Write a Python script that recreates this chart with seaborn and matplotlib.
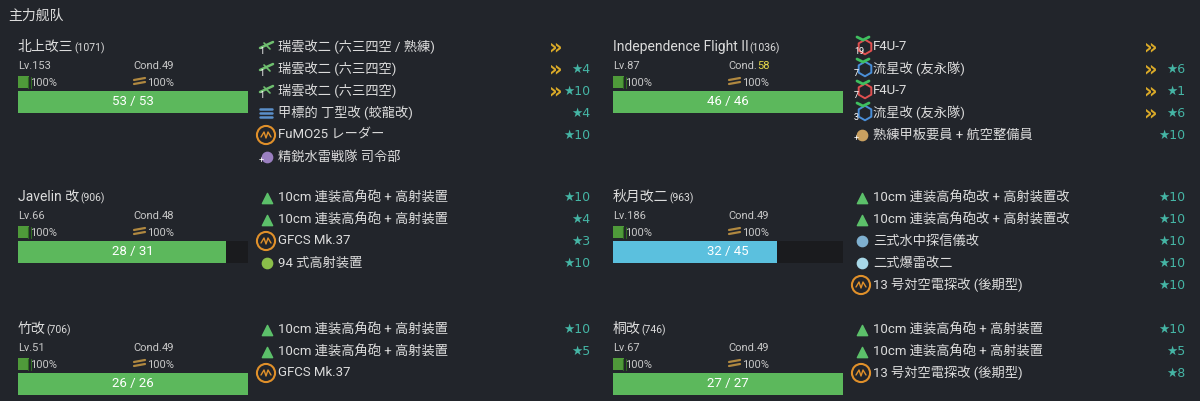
import matplotlib
matplotlib.use("Agg")
import matplotlib.pyplot as plt
import seaborn as sns

# ── data ──────────────────────────────────────────────
ship_names = ["北上改三", "Independence Flight II", "Javelin 改", "秋月改二", "竹改", "桐改"]
ship_ids = [1071, 1036, 906, 963, 706, 746]
ship_lv = [153, 87, 66, 186, 51, 67]
ship_cond = [49, 58, 48, 49, 49, 49]
hp_now = [53, 46, 28, 32, 26, 27]
hp_max = [53, 46, 31, 45, 26, 27]

equip_names = [
    ["瑞雲改二 (六三四空 / 熟練)", "瑞雲改二 (六三四空)", "瑞雲改二 (六三四空)", "甲標的 丁型改 (蛟龍改)", "FuMO25 レーダー", "精鋭水雷戦隊 司令部"],
    ["F4U-7", "流星改 (友永隊)", "F4U-7", "流星改 (友永隊)", "熟練甲板要員 + 航空整備員"],
    ["10cm 連装高角砲 + 高射装置", "10cm 連装高角砲 + 高射装置", "GFCS Mk.37", "94 式高射装置"],
    ["10cm 連装高角砲改 + 高射装置改", "10cm 連装高角砲改 + 高射装置改", "三式水中探信儀改", "二式爆雷改二", "13 号対空電探改 (後期型)"],
    ["10cm 連装高角砲 + 高射装置", "10cm 連装高角砲 + 高射装置", "GFCS Mk.37"],
    ["10cm 連装高角砲 + 高射装置", "10cm 連装高角砲 + 高射装置", "13 号対空電探改 (後期型)"],
]
equip_stars = [
    [0, 4, 10, 4, 10, 0],
    [0, 6, 1, 6, 10],
    [10, 4, 3, 10],
    [10, 10, 10, 10, 10],
    [10, 5, 0],
    [10, 5, 8],
]
equip_prof = [
    [1, 1, 1, 0, 0, 0],
    [1, 1, 1, 1, 0],
    [0, 0, 0, 0],
    [0, 0, 0, 0, 0],
    [0, 0, 0],
    [0, 0, 0],
]
equip_kind = [
    ["plane", "plane", "plane", "sub", "radar", "hq"],
    ["fighter", "bomber", "fighter", "bomber", "crew"],
    ["gun", "gun", "radar", "aa"],
    ["gun", "gun", "sonar", "dc", "radar"],
    ["gun", "gun", "radar"],
    ["gun", "gun", "radar"],
]
plane_count = [["1", "1", "1", "", "", "+"], ["19", "7", "7", "3", "+"],
               ["", "", "", ""], ["", "", "", "", ""], ["", "", ""], ["", "", ""]]

# ── layout ────────────────────────────────────────────
BG = "#22252b"
TXT = "#dcdcdc"
STAR = "#45b5a5"
CHEV = "#d9a928"
col_x = [18, 613]
block_y = [47, 197, 329]
bar_w = 230
kind_color = {"plane": "#6fbf6f", "fighter": "#5fbf5f", "bomber": "#5fbf5f", "sub": "#5b8fc9",
              "radar": "#e0902a", "hq": "#9a7fc0", "crew": "#c9a060", "gun": "#5cc06a",
              "aa": "#8bbf4a", "sonar": "#7fb0d0", "dc": "#a8d8e8"}

sns.set_theme(style="dark")
plt.rcParams["font.family"] = ["Roboto", "Noto Sans CJK JP", "DejaVu Sans"]

fig = plt.figure(figsize=(12, 4.01), dpi=100, facecolor=BG)
ax = fig.add_axes([0, 0, 1, 1])
ax.set_facecolor(BG)
ax.set_xlim(0, 1200)
ax.set_ylim(401, 0)
ax.axis("off")
inv = ax.transData.inverted()

ax.text(8, 16, "主力舰队", color=TXT, fontsize=10, va="center")

def right_edge(t):
    fig.canvas.draw()
    return t.get_window_extent().transformed(inv).x1

for i in range(6):
    x0 = col_x[i % 2]
    y0 = block_y[i // 2]
    name_t = ax.text(x0, y0, ship_names[i], color=TXT, fontsize=10, va="center")
    ax.text(right_edge(name_t) + 1, y0 + 1, f"({ship_ids[i]})", color=TXT, fontsize=7.5, va="center")
    ax.text(x0, y0 + 19, f"Lv.{ship_lv[i]}", color="#c8c8c8", fontsize=8, va="center")
    ct = ax.text(x0 + 115, y0 + 19, "Cond.", color="#c8c8c8", fontsize=8, va="center")
    ax.text(right_edge(ct), y0 + 19, str(ship_cond[i]),
            color="#e6d84a" if ship_cond[i] > 49 else "#c8c8c8", fontsize=8, va="center")
    # fuel / ammo
    ax.barh(y0 + 35, 11, left=x0, height=12, color="#4f9a3a", lw=0)
    for d in (3, 6):
        ax.plot([x0 + 13 - d + 3, x0 + 13 - d + 3], [y0 + 30, y0 + 41], color="#2f6a22", lw=0.8)
    ax.text(x0 + 12, y0 + 36, "100%", color="#c8c8c8", fontsize=8, va="center")
    ax.plot([x0 + 116, x0 + 127], [y0 + 33, y0 + 31], color="#b08840", lw=1.6)
    ax.plot([x0 + 116, x0 + 127], [y0 + 37, y0 + 35], color="#b08840", lw=1.6)
    ax.text(x0 + 129, y0 + 36, "100%", color="#c8c8c8", fontsize=8, va="center")
    # HP bar
    frac = hp_now[i] / hp_max[i]
    hp_col = "#5cb85c" if frac > 0.75 else "#5bc0de"
    ax.barh(y0 + 55, bar_w, left=x0, height=22, color="#1a1b1e", lw=0)
    ax.barh(y0 + 55, bar_w * frac, left=x0, height=22, color=hp_col, lw=0)
    ax.text(x0 + bar_w / 2, y0 + 55, f"{hp_now[i]} / {hp_max[i]}", color="white",
            fontsize=9.5, ha="center", va="center")
    # equipment
    ex = x0 + 240
    for j, en in enumerate(equip_names[i]):
        ey = y0 + j * 22
        k = equip_kind[i][j]
        c = kind_color[k]
        if k == "radar":
            ax.scatter(ex + 8, ey, s=170, facecolors="none", edgecolors=c, lw=1.5)
            ax.plot([ex + 3, ex + 6, ex + 8, ex + 10, ex + 13], [ey + 2, ey - 3, ey + 3, ey - 3, ey + 2],
                    color=c, lw=1)
        elif k == "sub":
            for d in (-4, 0, 4):
                ax.plot([ex + 2, ex + 14], [ey + d, ey + d], color=c, lw=1.8)
        elif k == "gun":
            ax.scatter(ex + 9, ey + 1, s=55, marker="^", color=c)
        elif k in ("fighter", "bomber"):
            ax.plot([ex + 4, ex + 10, ex + 16], [ey - 10, ey - 7, ey - 10], color="#3fbf5f", lw=2)
            ax.scatter(ex + 12, ey, s=110, marker="h", facecolors="none",
                       edgecolors="#e05050" if k == "fighter" else "#4a8fd9", lw=1.4)
        elif k == "plane":
            ax.plot([ex + 2, ex + 15], [ey + 1, ey - 5], color=c, lw=1.8)
            ax.plot([ex + 6, ex + 12], [ey - 4, ey + 2], color=c, lw=1.2)
        else:
            ax.scatter(ex + 9, ey, s=55, marker="o", color=c)
        if plane_count[i][j]:
            ax.text(ex + 1, ey + 4, plane_count[i][j], color="white", fontsize=6.5, va="center")
        ax.text(ex + 20, ey, en, color=TXT, fontsize=9.5, va="center")
        rx = x0 + 572
        if equip_stars[i][j]:
            ax.text(rx, ey, f"★{equip_stars[i][j]}", color=STAR, fontsize=9, va="center", ha="right",
                    family=["DejaVu Sans"])
        if equip_prof[i][j]:
            ax.text(x0 + 538, ey, "»", color=CHEV, fontsize=15, fontweight="bold", va="center",
                    ha="center", family=["DejaVu Sans"])

fig.savefig("out.png", dpi=100, facecolor=BG)
